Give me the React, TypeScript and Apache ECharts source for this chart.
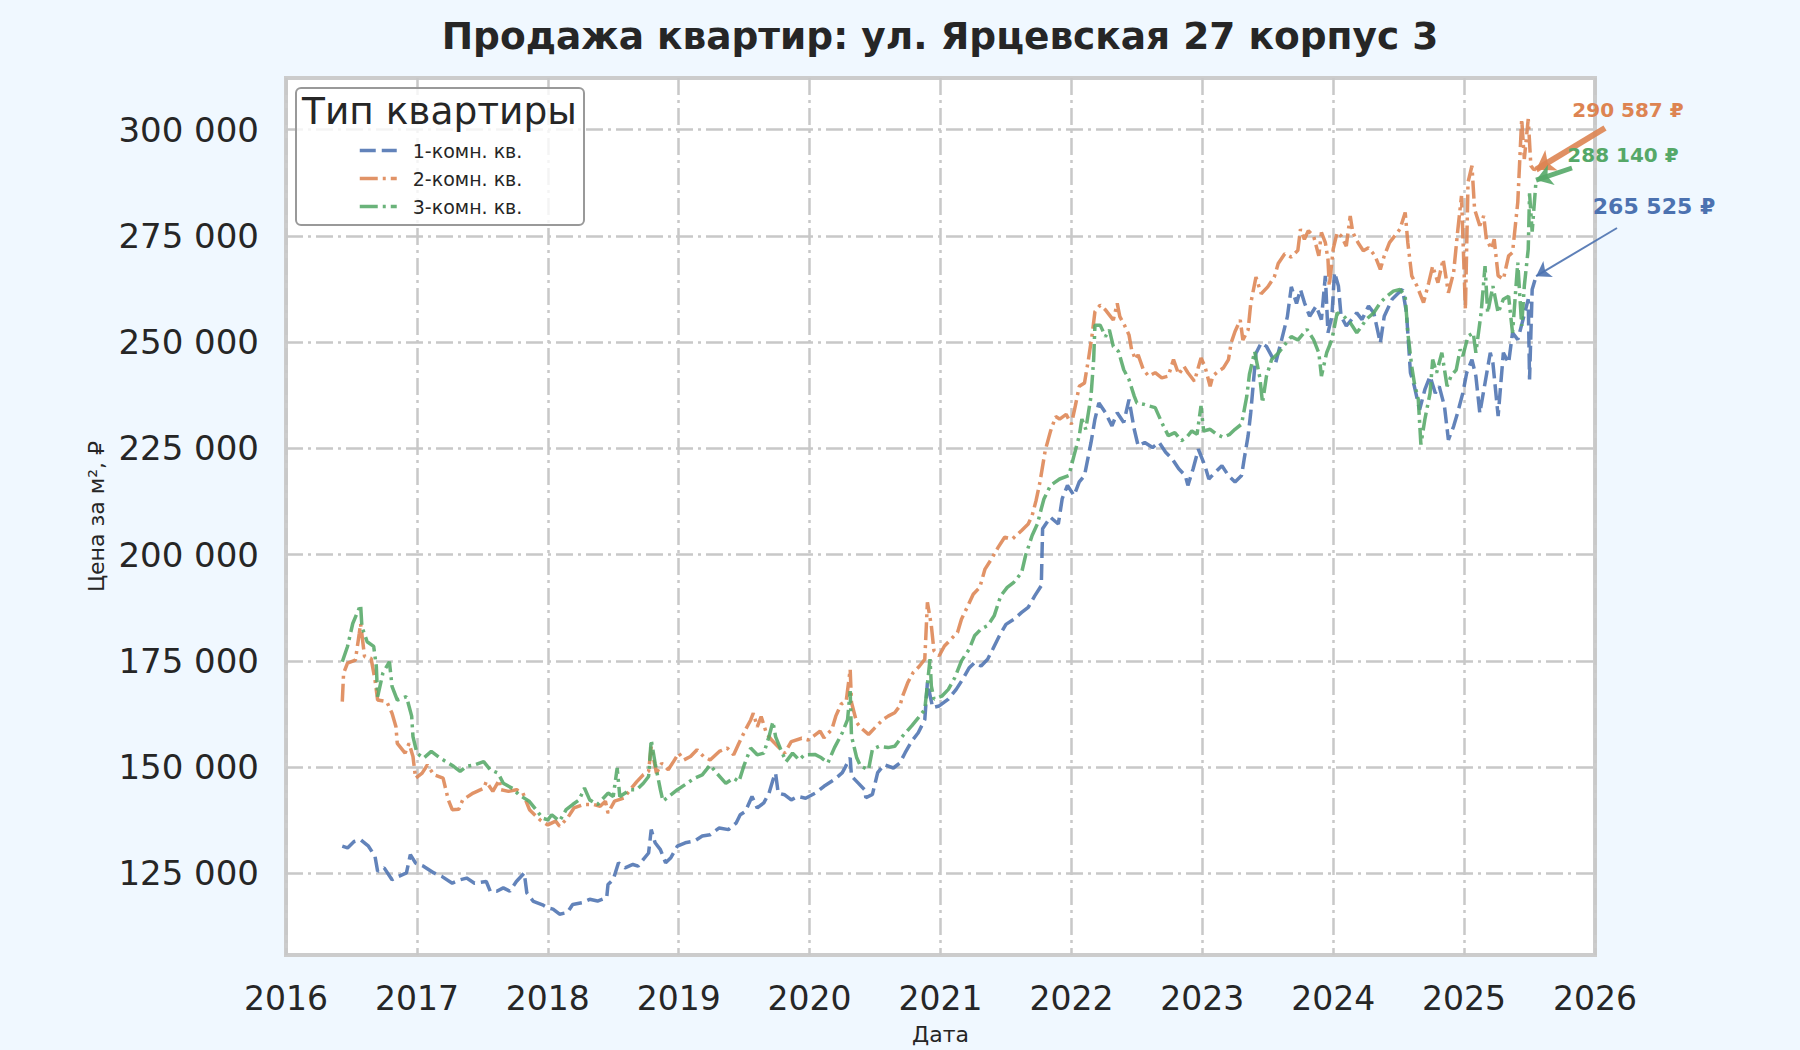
import React, { useRef, useEffect } from 'react'
import * as echarts from 'echarts'

// Данные: [год (дробный), цена за м²]
const oneRoom: [number, number][] = [
  [2016.43, 131400], [2016.47, 131000], [2016.52, 132500], [2016.57, 132900], [2016.63, 131400],
  [2016.68, 129000], [2016.7, 125500], [2016.75, 126300], [2016.81, 123500], [2016.86, 124300],
  [2016.92, 125100], [2016.95, 129400], [2016.99, 127400], [2017.05, 126700], [2017.13, 125100],
  [2017.19, 124300], [2017.27, 122700], [2017.33, 123500], [2017.38, 123900], [2017.44, 122700],
  [2017.53, 123100], [2017.56, 120800], [2017.61, 120800], [2017.66, 121600], [2017.71, 120800],
  [2017.76, 123100], [2017.82, 125100], [2017.84, 120400], [2017.89, 118400], [2017.96, 117600],
  [2018.0, 116900], [2018.04, 116600], [2018.09, 115400], [2018.15, 115800], [2018.19, 117700],
  [2018.26, 118100], [2018.32, 118900], [2018.38, 118500], [2018.45, 119300], [2018.46, 122400],
  [2018.5, 123600], [2018.54, 127500], [2018.59, 126300], [2018.65, 127100], [2018.69, 126700],
  [2018.73, 128300], [2018.77, 129800], [2018.79, 135300], [2018.82, 132200], [2018.86, 130600],
  [2018.9, 127500], [2018.94, 128700], [2018.99, 131400], [2019.05, 132200], [2019.12, 132600],
  [2019.18, 133800], [2019.24, 134100], [2019.31, 135700], [2019.38, 135300], [2019.44, 136900],
  [2019.47, 138800], [2019.51, 139600], [2019.56, 143100], [2019.6, 140400], [2019.65, 141600],
  [2019.69, 143900], [2019.72, 147000], [2019.74, 148600], [2019.76, 143900], [2019.81, 143500],
  [2019.86, 142300], [2019.91, 143100], [2019.97, 142700], [2020.05, 144000], [2020.11, 145500],
  [2020.19, 147100], [2020.25, 148700], [2020.31, 152200], [2020.32, 147900], [2020.37, 146300],
  [2020.42, 144700], [2020.43, 142800], [2020.48, 143600], [2020.52, 148700], [2020.57, 150600],
  [2020.64, 149800], [2020.69, 151000], [2020.73, 153400], [2020.78, 156100], [2020.83, 158100],
  [2020.88, 161200], [2020.9, 169900], [2020.94, 164000], [2020.99, 164400], [2021.06, 166000],
  [2021.12, 168300], [2021.17, 170700], [2021.22, 173400], [2021.26, 174600], [2021.31, 173800],
  [2021.36, 175400], [2021.4, 177800], [2021.45, 180900], [2021.5, 183600], [2021.56, 184800],
  [2021.62, 186400], [2021.67, 187600], [2021.72, 190300], [2021.77, 192700], [2021.78, 206100],
  [2021.84, 208800], [2021.9, 207200], [2021.93, 213200], [2021.97, 216300], [2022.02, 213900],
  [2022.06, 217100], [2022.1, 218600], [2022.15, 226400], [2022.18, 231900], [2022.21, 235700],
  [2022.26, 233400], [2022.31, 230300], [2022.35, 233400], [2022.4, 231100], [2022.44, 236500],
  [2022.48, 229500], [2022.51, 225600], [2022.56, 226400], [2022.62, 225200], [2022.67, 226400],
  [2022.72, 224100], [2022.77, 222500], [2022.82, 220200], [2022.87, 218600], [2022.89, 216300],
  [2022.93, 220200], [2022.97, 224800], [2023.02, 220900], [2023.05, 217800], [2023.1, 219400],
  [2023.15, 220900], [2023.2, 218600], [2023.25, 217100], [2023.3, 218600], [2023.32, 222500],
  [2023.35, 228000], [2023.37, 233400], [2023.41, 247400], [2023.45, 249800], [2023.49, 249000],
  [2023.53, 246700], [2023.56, 245100], [2023.6, 249800], [2023.65, 256000], [2023.68, 263000],
  [2023.72, 259100], [2023.75, 262400], [2023.78, 259300], [2023.82, 256100], [2023.87, 258500],
  [2023.91, 255300], [2023.94, 265600], [2023.96, 252200], [2023.99, 256100], [2024.01, 266400],
  [2024.04, 263200], [2024.06, 256100], [2024.1, 253800], [2024.14, 255300], [2024.18, 256900],
  [2024.22, 255300], [2024.27, 258500], [2024.31, 256900], [2024.36, 249800], [2024.39, 256100],
  [2024.45, 260100], [2024.5, 261600], [2024.53, 262400], [2024.56, 256900], [2024.59, 242800],
  [2024.62, 239600], [2024.66, 234100], [2024.7, 238800], [2024.74, 242000], [2024.78, 238000],
  [2024.81, 239600], [2024.85, 234900], [2024.88, 227000], [2024.92, 230200], [2024.95, 233300],
  [2024.99, 238000], [2025.02, 242800], [2025.06, 245900], [2025.09, 242000], [2025.12, 233300],
  [2025.16, 240400], [2025.2, 247500], [2025.22, 245100], [2025.26, 232600], [2025.3, 247500],
  [2025.34, 245100], [2025.37, 252200], [2025.41, 250600], [2025.45, 255300], [2025.49, 260100],
  [2025.5, 241200], [2025.52, 262400], [2025.55, 265525],
]

const twoRoom: [number, number][] = [
  [2016.43, 165400], [2016.44, 172100], [2016.47, 174500], [2016.53, 175200], [2016.56, 181500],
  [2016.57, 183800], [2016.6, 176000], [2016.65, 175600], [2016.68, 170500], [2016.7, 165800],
  [2016.77, 165400], [2016.81, 162700], [2016.84, 159500], [2016.85, 155600], [2016.91, 153300],
  [2016.94, 155600], [2016.97, 152500], [2016.99, 147400], [2017.04, 148600], [2017.08, 150500],
  [2017.13, 148200], [2017.2, 147400], [2017.24, 142300], [2017.27, 140000], [2017.32, 140100],
  [2017.35, 142300], [2017.43, 143900], [2017.51, 145000], [2017.53, 146600], [2017.58, 144300],
  [2017.63, 147000], [2017.64, 144700], [2017.7, 144300], [2017.76, 144700], [2017.81, 143900],
  [2017.86, 140000], [2017.94, 137600], [2018.0, 136400], [2018.06, 137300], [2018.09, 136100],
  [2018.15, 138000], [2018.2, 140400], [2018.27, 141200], [2018.35, 141200], [2018.4, 140800],
  [2018.44, 142000], [2018.46, 139200], [2018.51, 142000], [2018.58, 142700], [2018.63, 144700],
  [2018.68, 146600], [2018.73, 148200], [2018.77, 149000], [2018.79, 154800], [2018.83, 148600],
  [2018.87, 150900], [2018.92, 149400], [2018.96, 151300], [2019.0, 153300], [2019.04, 151700],
  [2019.09, 152500], [2019.14, 154100], [2019.19, 152500], [2019.24, 151700], [2019.31, 153700],
  [2019.37, 154500], [2019.42, 152900], [2019.46, 155600], [2019.51, 158800], [2019.55, 161100],
  [2019.57, 162700], [2019.6, 159500], [2019.63, 161900], [2019.67, 158000], [2019.71, 156400],
  [2019.76, 154800], [2019.81, 153300], [2019.86, 156000], [2019.94, 156800], [2019.99, 156400],
  [2020.03, 157300], [2020.08, 158500], [2020.11, 156900], [2020.17, 158900], [2020.2, 162000],
  [2020.24, 164800], [2020.28, 165600], [2020.31, 173000], [2020.32, 165200], [2020.36, 160500],
  [2020.39, 159300], [2020.45, 157700], [2020.5, 159300], [2020.56, 161200], [2020.6, 162000],
  [2020.65, 162800], [2020.69, 164400], [2020.71, 166700], [2020.75, 169900], [2020.79, 172200],
  [2020.84, 173800], [2020.88, 175400], [2020.9, 188800], [2020.93, 183300], [2020.95, 177400],
  [2020.99, 176200], [2021.03, 178500], [2021.08, 180100], [2021.13, 181700], [2021.16, 184800],
  [2021.21, 188000], [2021.25, 190700], [2021.3, 192300], [2021.34, 196600], [2021.39, 199000],
  [2021.44, 201700], [2021.49, 204100], [2021.55, 203700], [2021.62, 205700], [2021.67, 207200],
  [2021.7, 209200], [2021.73, 212700], [2021.76, 217100], [2021.8, 224500], [2021.84, 229000],
  [2021.88, 232500], [2021.91, 231900], [2021.96, 233000], [2022.0, 230700], [2022.03, 235000],
  [2022.06, 239600], [2022.1, 240400], [2022.13, 245900], [2022.16, 252100], [2022.18, 257200],
  [2022.22, 258700], [2022.26, 257600], [2022.3, 256000], [2022.32, 255200], [2022.35, 259100],
  [2022.37, 256000], [2022.41, 253700], [2022.44, 251700], [2022.46, 248200], [2022.49, 245900],
  [2022.51, 247000], [2022.55, 243500], [2022.59, 242000], [2022.64, 242800], [2022.69, 241600],
  [2022.74, 242000], [2022.78, 245900], [2022.82, 242400], [2022.86, 244300], [2022.89, 242800],
  [2022.94, 240800], [2022.99, 246300], [2023.02, 244300], [2023.06, 239600], [2023.08, 242000],
  [2023.12, 243100], [2023.16, 243900], [2023.2, 245900], [2023.22, 249800], [2023.25, 252500],
  [2023.29, 255200], [2023.31, 250500], [2023.35, 252900], [2023.37, 259100], [2023.41, 265300],
  [2023.45, 261400], [2023.5, 263000], [2023.55, 265300], [2023.58, 268500], [2023.63, 270800],
  [2023.68, 270000], [2023.73, 271600], [2023.75, 276600], [2023.78, 274200], [2023.81, 276200],
  [2023.85, 275000], [2023.89, 270300], [2023.91, 275800], [2023.94, 273400], [2023.96, 269500],
  [2023.97, 263200], [2024.0, 271900], [2024.03, 275800], [2024.06, 275000], [2024.1, 272600],
  [2024.13, 279700], [2024.15, 275800], [2024.19, 273400], [2024.23, 271500], [2024.27, 272200],
  [2024.32, 270300], [2024.36, 267100], [2024.39, 270300], [2024.43, 273400], [2024.47, 275000],
  [2024.51, 276600], [2024.55, 280500], [2024.57, 273400], [2024.6, 265600], [2024.64, 263200],
  [2024.69, 259300], [2024.73, 264000], [2024.76, 267900], [2024.8, 264000], [2024.84, 269500],
  [2024.88, 261600], [2024.92, 266400], [2024.95, 275800], [2024.98, 284400], [2025.01, 257700],
  [2025.03, 287600], [2025.06, 291500], [2025.08, 281300], [2025.12, 277400], [2025.15, 279700],
  [2025.17, 274200], [2025.21, 271900], [2025.23, 274200], [2025.26, 265600], [2025.3, 264800],
  [2025.34, 270300], [2025.37, 271100], [2025.41, 282900], [2025.44, 302500], [2025.46, 293100],
  [2025.49, 302500], [2025.51, 291500], [2025.53, 290700], [2025.55, 290587],
]

const threeRoom: [number, number][] = [
  [2016.43, 174800], [2016.47, 178400], [2016.51, 183800], [2016.57, 188200], [2016.58, 183000],
  [2016.62, 179500], [2016.67, 178400], [2016.69, 173700], [2016.7, 166600], [2016.74, 172100],
  [2016.79, 174800], [2016.81, 169000], [2016.85, 165800], [2016.92, 166600], [2016.96, 162000],
  [2016.97, 157200], [2017.0, 153300], [2017.05, 152100], [2017.11, 153700], [2017.18, 152100],
  [2017.28, 150200], [2017.33, 149000], [2017.38, 150200], [2017.44, 150500], [2017.51, 151300],
  [2017.56, 149400], [2017.62, 148600], [2017.66, 146200], [2017.73, 145000], [2017.78, 143500],
  [2017.86, 141900], [2017.91, 140000], [2017.96, 138000], [2018.0, 137600], [2018.03, 138800],
  [2018.09, 137300], [2018.14, 140000], [2018.19, 141200], [2018.24, 142300], [2018.28, 145100],
  [2018.32, 142300], [2018.38, 141200], [2018.46, 143900], [2018.5, 143100], [2018.53, 149800],
  [2018.55, 143100], [2018.63, 144700], [2018.68, 144700], [2018.73, 146200], [2018.77, 147800],
  [2018.79, 156400], [2018.82, 150900], [2018.86, 144700], [2018.88, 142000], [2018.94, 143500],
  [2018.99, 144700], [2019.05, 145900], [2019.12, 147400], [2019.18, 148200], [2019.24, 150500],
  [2019.29, 148600], [2019.36, 146200], [2019.42, 147400], [2019.46, 146600], [2019.5, 150500],
  [2019.55, 154500], [2019.6, 152900], [2019.65, 153300], [2019.69, 157200], [2019.72, 160700],
  [2019.74, 157200], [2019.78, 154100], [2019.82, 151300], [2019.87, 153300], [2019.92, 151700],
  [2019.96, 152900], [2020.04, 153000], [2020.09, 152200], [2020.14, 151000], [2020.19, 154600],
  [2020.25, 158100], [2020.29, 161200], [2020.31, 167900], [2020.32, 157300], [2020.36, 152200],
  [2020.39, 150200], [2020.45, 149400], [2020.48, 154200], [2020.53, 154900], [2020.6, 154600],
  [2020.65, 154900], [2020.71, 157300], [2020.78, 159700], [2020.83, 161600], [2020.88, 163600],
  [2020.92, 175400], [2020.93, 169100], [2020.95, 166000], [2021.01, 166700], [2021.06, 168300],
  [2021.11, 171100], [2021.16, 175000], [2021.22, 177800], [2021.26, 180900], [2021.31, 182500],
  [2021.36, 183300], [2021.41, 185600], [2021.46, 190300], [2021.51, 192300], [2021.56, 193500],
  [2021.62, 195800], [2021.65, 199800], [2021.7, 204500], [2021.74, 207200], [2021.77, 210800],
  [2021.79, 213100], [2021.84, 216300], [2021.91, 217800], [2021.98, 218600], [2022.02, 223300],
  [2022.06, 228000], [2022.08, 231900], [2022.11, 229500], [2022.15, 237300], [2022.17, 245900],
  [2022.18, 254000], [2022.22, 254000], [2022.26, 251300], [2022.29, 252900], [2022.32, 249000],
  [2022.36, 247800], [2022.4, 243500], [2022.44, 241200], [2022.48, 237300], [2022.5, 235700],
  [2022.55, 235400], [2022.59, 235000], [2022.64, 234600], [2022.69, 231100], [2022.74, 228000],
  [2022.79, 228700], [2022.84, 226800], [2022.88, 227600], [2022.92, 229100], [2022.96, 228300],
  [2022.99, 235000], [2023.01, 229100], [2023.06, 229500], [2023.11, 228300], [2023.16, 227600],
  [2023.21, 228300], [2023.25, 229500], [2023.3, 230700], [2023.34, 237300], [2023.36, 242400],
  [2023.4, 247800], [2023.44, 241600], [2023.46, 235700], [2023.49, 242000], [2023.53, 245900],
  [2023.58, 247400], [2023.63, 249400], [2023.68, 251300], [2023.73, 250500], [2023.8, 253000],
  [2023.85, 250600], [2023.89, 247500], [2023.91, 242000], [2023.95, 247500], [2023.99, 250600],
  [2024.03, 256900], [2024.08, 256100], [2024.13, 254600], [2024.18, 252200], [2024.22, 253800],
  [2024.25, 255300], [2024.31, 256900], [2024.36, 259300], [2024.41, 260800], [2024.46, 262000],
  [2024.51, 262400], [2024.55, 260800], [2024.57, 252200], [2024.6, 244300], [2024.62, 240400],
  [2024.65, 236500], [2024.67, 225900], [2024.7, 231800], [2024.74, 238000], [2024.76, 245900],
  [2024.79, 242800], [2024.83, 247500], [2024.87, 239600], [2024.9, 242000], [2024.94, 243500],
  [2024.97, 248300], [2024.99, 246700], [2025.03, 251400], [2025.07, 252200], [2025.09, 247500],
  [2025.13, 256900], [2025.16, 267900], [2025.18, 256900], [2025.22, 263200], [2025.26, 256900],
  [2025.3, 260100], [2025.34, 260800], [2025.37, 252200], [2025.41, 268700], [2025.44, 253800],
  [2025.46, 263200], [2025.49, 271900], [2025.5, 285000], [2025.52, 276000], [2025.55, 288140],
]

const seriesNames = ['1-комн. кв.', '2-комн. кв.', '3-комн. кв.']
const priceTicks = [125000, 150000, 175000, 200000, 225000, 250000, 275000, 300000]
const yearTicks = [2016, 2017, 2018, 2019, 2020, 2021, 2022, 2023, 2024, 2025, 2026]

const COLORS = ['#4c72b0', '#dd8452', '#55a868']
const FONT = 'DejaVu Sans'
const TEXT = '#262626'

const fmt = (v: number) => String(Math.round(v)).replace(/\B(?=(\d{3})+(?!\d))/g, ' ')

const App: React.FC = () => {
  const chartRef = useRef<HTMLDivElement>(null)

  useEffect(() => {
    document.body.style.margin = '0'
    if (!chartRef.current) return
    const chart = echarts.init(chartRef.current, undefined, { renderer: 'svg' })

    const all = [oneRoom, twoRoom, threeRoom]
    const dashes = [[16, 6], [18, 5, 3, 5], [18, 5, 3, 5]]
    // начало стрелок-подписей (пиксели) и ширина линии стрелки
    const arrowFrom = [
      { x: 1617, y: 228, w: 2, size: 14 },
      { x: 1605, y: 128, w: 6, size: 18 },
      { x: 1572, y: 168, w: 5, size: 16 },
    ]
    const labelPos = [
      { x: 1654, y: 206, size: 22 },
      { x: 1628, y: 110, size: 20 },
      { x: 1623, y: 155, size: 20 },
    ]

    const series = all.map((data, i) => {
      const last = data[data.length - 1]
      return {
        name: seriesNames[i],
        type: 'line',
        data,
        showSymbol: false,
        symbol: 'none',
        clip: false,
        z: 2 + i,
        itemStyle: { color: COLORS[i] },
        lineStyle: { color: COLORS[i], width: 3.5, type: dashes[i], opacity: 0.88 },
        emphasis: { disabled: true },
        markLine: {
          silent: true,
          animation: false,
          symbol: ['none', 'arrow'],
          symbolSize: arrowFrom[i].size,
          label: { show: false },
          lineStyle: { color: COLORS[i], width: arrowFrom[i].w, type: 'solid', opacity: 0.9 },
          emphasis: { disabled: true },
          data: [[{ x: arrowFrom[i].x, y: arrowFrom[i].y }, { coord: [last[0], last[1]] }]],
        },
      }
    })

    const annotations = all.map((data, i) => ({
      type: 'text',
      x: labelPos[i].x,
      y: labelPos[i].y,
      z: 100,
      style: {
        text: `${fmt(data[data.length - 1][1])} ₽`,
        fill: COLORS[i],
        font: `bold ${labelPos[i].size}px "${FONT}"`,
        textAlign: 'center',
        textVerticalAlign: 'middle',
      },
    }))

    const option = {
      animation: false,
      backgroundColor: '#f0f8ff',
      textStyle: { fontFamily: FONT },
      title: {
        text: 'Продажа квартир: ул. Ярцевская 27 корпус 3',
        left: 935,
        top: 12,
        textAlign: 'center',
        textStyle: { fontFamily: FONT, fontSize: 37.5, fontWeight: 'bold', color: TEXT },
      },
      grid: {
        left: 286,
        right: 205,
        top: 78,
        bottom: 95,
        show: true,
        backgroundColor: '#ffffff',
        borderColor: '#cccccc',
        borderWidth: 4,
      },
      legend: {
        data: seriesNames,
        orient: 'vertical',
        left: 353,
        top: 136,
        z: 200,
        itemWidth: 37,
        itemHeight: 14,
        itemGap: 9,
        selectedMode: false,
        itemStyle: { opacity: 0 },
        lineStyle: { width: 3.5 },
        textStyle: { fontFamily: FONT, fontSize: 19, color: TEXT, padding: [0, 0, 0, 11] },
      },
      xAxis: {
        type: 'value',
        min: yearTicks[0],
        max: yearTicks[yearTicks.length - 1],
        interval: 1,
        name: 'Дата',
        nameLocation: 'middle',
        nameGap: 68,
        nameTextStyle: { fontFamily: FONT, fontSize: 22, color: TEXT },
        axisLine: { show: false },
        axisTick: { show: false },
        axisLabel: {
          showMinLabel: true,
          showMaxLabel: true,
          margin: 27,
          fontFamily: FONT,
          fontSize: 33,
          color: TEXT,
          formatter: (v: number) => String(v),
        },
        splitLine: {
          show: true,
          lineStyle: { color: '#c8c8c8', width: 2.5, type: [17, 5, 3, 5] },
        },
      },
      yAxis: {
        type: 'value',
        min: 105800,
        max: 312150,
        name: 'Цена за м², ₽',
        nameLocation: 'middle',
        nameGap: 178,
        nameTextStyle: { fontFamily: FONT, fontSize: 22, color: TEXT },
        axisLine: { show: false },
        axisTick: { show: false, customValues: priceTicks },
        axisLabel: {
          customValues: priceTicks,
          margin: 27,
          fontFamily: FONT,
          fontSize: 34,
          color: TEXT,
          formatter: (v: number) => fmt(v),
        },
        splitLine: {
          show: true,
          lineStyle: { color: '#c8c8c8', width: 2.5, type: [17, 5, 3, 5] },
        },
      },
      graphic: [
        {
          type: 'rect',
          z: 100,
          shape: { x: 296, y: 88, width: 288, height: 137, r: 5 },
          style: { fill: 'rgba(255,255,255,0.8)', stroke: '#999999', lineWidth: 2 },
        },
        {
          type: 'text',
          z: 101,
          x: 302,
          y: 111,
          style: {
            text: 'Тип квартиры',
            fill: TEXT,
            font: `37.5px "${FONT}"`,
            textVerticalAlign: 'middle',
          },
        },
        ...annotations,
      ],
      series,
    }

    chart.setOption(option)

    return () => {
      chart.dispose()
    }
  }, [])

  return <div ref={chartRef} style={{ width: '1800px', height: '1050px', background: '#f0f8ff' }} />
}

export default App
